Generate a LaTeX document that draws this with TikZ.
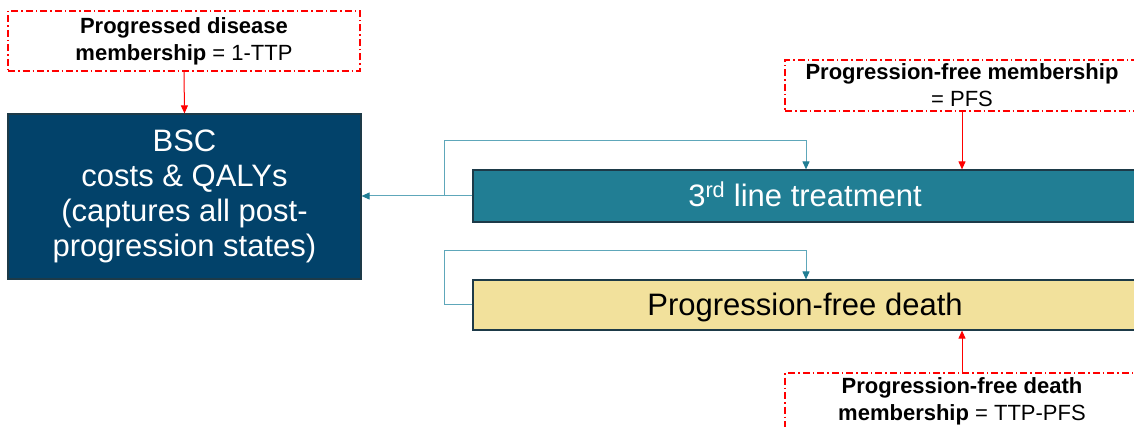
\documentclass[tikz,border=0pt]{standalone}
\usepackage{fontspec}
\setmainfont{Liberation Sans}
\usetikzlibrary{arrows.meta}
\definecolor{bscblue}{HTML}{02426A}
\definecolor{teal3}{HTML}{217E94}
\definecolor{pfyellow}{HTML}{F2E19C}
\definecolor{loopteal}{HTML}{5EA7BA}
\definecolor{boxedge}{HTML}{1D3A48}
\begin{document}
\begin{tikzpicture}[x=1pt,y=-1pt,
  note/.style={draw=red, line width=1.3pt, dash pattern=on 7pt off 3pt on 1.5pt off 3pt,
    align=center, inner sep=0pt, font=\fontsize{22}{27}\selectfont},
  state/.style={draw=boxedge, line width=1.2pt, align=center, inner sep=0pt,
    font=\fontsize{31}{35}\selectfont},
  onelinestate/.style={state, text height=22pt, text depth=0pt},
  redarrow/.style={draw=red, line width=1pt, -{Triangle[length=8pt,width=7pt]}},
  looparrow/.style={draw=loopteal, line width=1pt, -{Triangle[length=8pt,width=7pt,color=teal3]}}]
\useasboundingbox (0,0) rectangle (1134,427);

% notes
\node[note, minimum width=352pt, minimum height=60pt] (n1) at (184,41)
  {\textbf{Progressed disease}\\\textbf{membership} = 1-TTP};
\node[note, minimum width=354pt, minimum height=51pt] (n2) at (962,85.5)
  {\textbf{Progression-free membership}\\= PFS};
\node[note, minimum width=354pt, minimum height=56pt] (n3) at (962,401)
  {\textbf{Progression-free death}\\\textbf{membership} = TTP-PFS};

% states
\node[state, fill=bscblue, text=white, minimum width=353pt, minimum height=165pt] (bsc) at (184.5,196.5)
  {BSC\\costs \& QALYs\\(captures all post-\\progression states)};
\node[onelinestate, fill=teal3, text=white, minimum width=664pt, minimum height=52pt] (tl) at (805,196)
  {3\textsuperscript{rd} line treatment};
\node[onelinestate, fill=pfyellow, text=black, minimum width=664pt, minimum height=50pt] (pf) at (805,305)
  {Progression-free death};

% coordinates
\coordinate (tlright) at (806,141);
\coordinate (tlbranch) at ([xshift=-28pt]tl.west);
\coordinate (tltop) at (tlbranch |- tlright);
\coordinate (pfright) at (806,251);
\coordinate (pfbranch) at ([xshift=-28pt]pf.west);
\coordinate (pftop) at (pfbranch |- pfright);

% teal connectors
\draw[looparrow] (tl.west) -- (bsc.east |- tl.west);
\draw[looparrow] (tlbranch) -- (tltop) -- (tlright) -- (tlright |- tl.north);
\draw[looparrow] (pf.west) -- (pfbranch) -- (pftop) -- (pfright) -- (pfright |- pf.north);

% red connectors
\draw[redarrow] (n1.south) -- (bsc.north);
\draw[redarrow] (n2.south) -- (n2.south |- tl.north);
\draw[redarrow] (n3.north) -- (n3.north |- pf.south);
\end{tikzpicture}
\end{document}
